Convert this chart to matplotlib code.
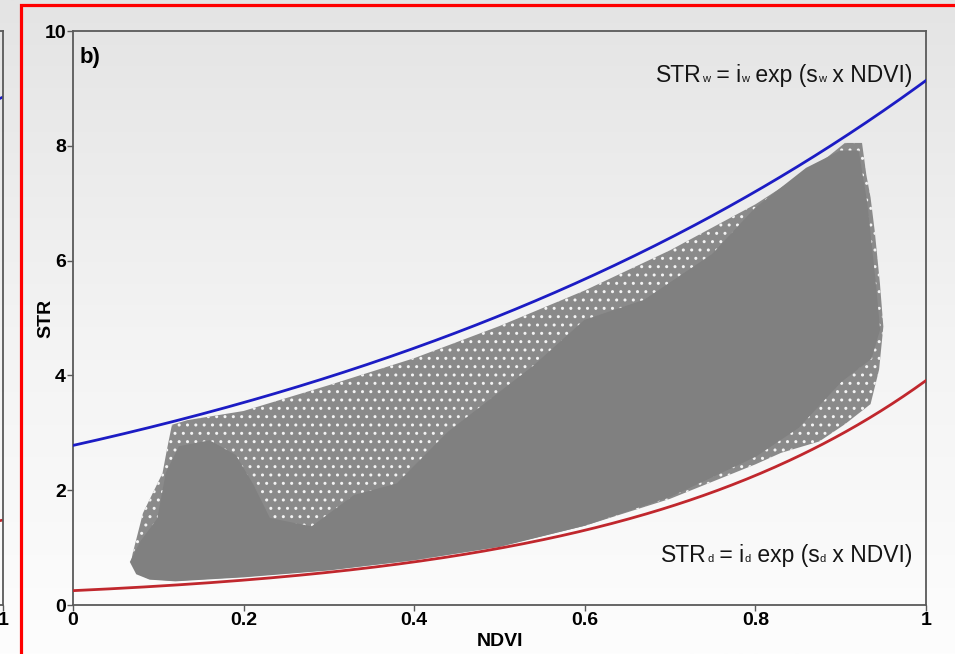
import numpy as np
import matplotlib
matplotlib.use("Agg")
import matplotlib.pyplot as plt
from matplotlib.patches import Polygon, Rectangle
from matplotlib.colors import LinearSegmentedColormap

# ---------------- data ----------------
# Edge model parameters: STR = i * exp(s * NDVI)
i_w, s_w = 2.78, 1.19   # wet edge (blue)
i_d, s_d = 0.25, 2.75   # dry edge (red)

# Outer envelope of the scatter cloud (polygon vertices, NDVI / STR)
cloud_outer_ndvi = [0.068, 0.070, 0.082, 0.105, 0.110, 0.116, 0.134, 0.20, 0.30, 0.40,
                    0.50, 0.60, 0.70, 0.80, 0.88, 0.905, 0.925, 0.930, 0.935, 0.940,
                    0.946, 0.950, 0.945, 0.935, 0.905, 0.875, 0.83, 0.80, 0.70, 0.60,
                    0.50, 0.40, 0.30, 0.20, 0.12, 0.09, 0.075]
cloud_outer_str = [0.75, 0.90, 1.60, 2.30, 2.70, 3.14, 3.22, 3.38, 3.83, 4.30,
                   4.86, 5.48, 6.18, 6.98, 7.75, 8.05, 8.05, 7.50, 7.10, 6.50,
                   5.60, 4.85, 4.10, 3.50, 3.15, 2.85, 2.65, 2.45, 1.85, 1.38,
                   1.02, 0.78, 0.61, 0.49, 0.42, 0.45, 0.55]

# Dense core of the scatter cloud (polygon vertices, NDVI / STR)
cloud_core_ndvi = [0.068, 0.080, 0.100, 0.110, 0.125, 0.160, 0.190, 0.210, 0.230, 0.280,
                   0.330, 0.380, 0.440, 0.540, 0.600, 0.670, 0.750, 0.800, 0.860, 0.900,
                   0.920, 0.930, 0.940, 0.945, 0.935, 0.900, 0.850, 0.800, 0.700, 0.600,
                   0.500, 0.400, 0.300, 0.200, 0.120, 0.090, 0.075]
cloud_core_str = [0.75, 1.10, 1.50, 2.30, 2.75, 2.85, 2.60, 2.10, 1.50, 1.35,
                  1.90, 2.10, 3.00, 4.15, 4.95, 5.30, 6.10, 6.90, 7.60, 7.90,
                  7.90, 7.00, 5.60, 4.80, 4.30, 3.90, 3.10, 2.60, 1.90, 1.40,
                  1.03, 0.80, 0.62, 0.50, 0.43, 0.46, 0.55]

# Partial left panel (only its right edge is visible)
left_ndvi = [0.985, 1.0]
left_wet = [8.78, 8.85]
left_dry = [1.45, 1.48]

x_ticks = [0, 0.2, 0.4, 0.6, 0.8, 1]
x_tick_labels = ["0", "0.2", "0.4", "0.6", "0.8", "1"]
y_ticks = [0, 2, 4, 6, 8, 10]
y_tick_labels = ["0", "2", "4", "6", "8", "10"]

wet_eq = [("STR", 16.5), ("w", 8), (" = i", 16.5), ("w", 8), (" exp (s", 16.5), ("w", 8), (" x NDVI)", 16.5)]
dry_eq = [("STR", 16.5), ("d", 8), (" = i", 16.5), ("d", 8), (" exp (s", 16.5), ("d", 8), (" x NDVI)", 16.5)]

# ---------------- style ----------------
plt.rcParams["font.family"] = ["Liberation Sans", "DejaVu Sans"]
plt.rcParams["hatch.linewidth"] = 1.0

W, H = 955, 654
fig = plt.figure(figsize=(W / 100, H / 100), dpi=100)

# background gradient
bg = fig.add_axes([0, 0, 1, 1], zorder=-10)
cmap_bg = LinearSegmentedColormap.from_list("bg", ["#fdfdfd", "#f3f3f3", "#e4e4e4"])
bg.imshow(np.linspace(0, 1, 256).reshape(-1, 1), aspect="auto", cmap=cmap_bg,
          origin="lower", extent=[0, 1, 0, 1])
bg.axis("off")

spine_col = "#5a5a5a"
gray_pt = "#808080"
blue = "#1c1cc4"
red = "#c0272d"

# partial left panel
axl = fig.add_axes([-0.6, 49 / H, 0.6 + 3 / W, 574 / H])
axl.patch.set_alpha(0)
axl.set_xlim(0, 1)
axl.set_ylim(0, 10)
axl.plot(left_ndvi, left_wet, color=blue, lw=1.9)
axl.plot(left_ndvi, left_dry, color=red, lw=1.9)
axl.set_xticks([1])
axl.set_xticklabels(["1"], fontweight="bold", fontsize=14)
axl.set_yticks([])
for s in axl.spines.values():
    s.set_color(spine_col)
    s.set_linewidth(1.3)
axl.tick_params(direction="out", length=4, width=1, color=spine_col, pad=1)

# main panel
ax = fig.add_axes([73 / W, 49 / H, 853 / W, 574 / H])
ax.patch.set_alpha(0)
ax.set_xlim(0, 1)
ax.set_ylim(0, 10)

outer = Polygon(np.column_stack([cloud_outer_ndvi, cloud_outer_str]), closed=True,
                facecolor="#8a8a8a", edgecolor="#f4f4f4", hatch="..", lw=0, zorder=2)
ax.add_patch(outer)
core = Polygon(np.column_stack([cloud_core_ndvi, cloud_core_str]), closed=True,
               facecolor=gray_pt, edgecolor=gray_pt, lw=1.5, zorder=3)
ax.add_patch(core)

nd = np.linspace(0, 1, 300)
ax.plot(nd, i_w * np.exp(s_w * nd), color=blue, lw=2.0, zorder=5)
ax.plot(nd, i_d * np.exp(s_d * nd), color=red, lw=2.0, zorder=5)

ax.set_xticks(x_ticks)
ax.set_xticklabels(x_tick_labels, fontweight="bold", fontsize=14)
ax.set_yticks(y_ticks)
ax.set_yticklabels(y_tick_labels, fontweight="bold", fontsize=14)
ax.tick_params(direction="out", length=4, width=1, color=spine_col, pad=1)
for s in ax.spines.values():
    s.set_color(spine_col)
    s.set_linewidth(1.3)

ax.set_xlabel("NDVI", fontweight="bold", fontsize=14, labelpad=3)
ax.set_ylabel("STR", fontweight="bold", fontsize=14, labelpad=-7)

ax.text(0.008, 0.953, "b)", transform=ax.transAxes, fontsize=16, fontweight="bold",
        ha="left", va="center")


def draw_segments(segs, x_right_px, y_base_px):
    r = fig.canvas.get_renderer()
    items = []
    x = 0.0
    for s, size in segs:
        t = fig.text(0, 0, s, fontsize=size, ha="left", va="baseline", color="#151515")
        w = t.get_window_extent(r).width
        items.append((t, x))
        x += w
    start = x_right_px - x
    for t, off in items:
        t.set_position(((start + off) / W, (H - y_base_px) / H))


draw_segments(wet_eq, 912, 82)
draw_segments(dry_eq, 912, 562)

# red frame
frame = Rectangle((21 / W, -0.1), 1.2, (1 - 5.5 / H) + 0.1, transform=fig.transFigure,
                  fill=False, edgecolor="#ff0000", lw=2.3, zorder=20)
fig.patches.append(frame)

fig.savefig("out.png", dpi=100)
